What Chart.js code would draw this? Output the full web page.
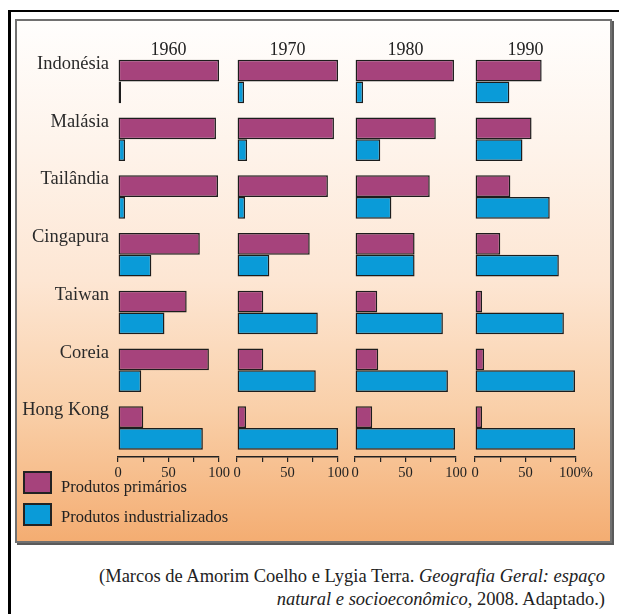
<!DOCTYPE html>
<html>
<head>
<meta charset="utf-8">
<script src="https://cdn.jsdelivr.net/npm/chart.js@4.4.1/dist/chart.umd.min.js"></script>
<style>
  body { margin: 0; background: #fff; }
  #fig { position: relative; width: 619px; height: 614px; overflow: hidden; font-family: 'Liberation Serif', serif; color: #222; }
  #outer { position: absolute; left: 8px; top: 10px; width: 640px; height: 640px; border-left: 3px solid #000; border-top: 2px solid #000; }
  #box { position: absolute; left: 15px; top: 19px; width: 597px; height: 524px; box-sizing: border-box;
         border: 2px solid #707070; box-shadow: 2px 2px 0 #5a5a5a;
         background: linear-gradient(to bottom, #fffefd 0%, #fef3ea 25%, #fde6d3 50%, #f9cfa8 75%, #f4ad72 100%); }
  canvas { position: absolute; }
  .sw { position: absolute; left: 23px; width: 29px; height: 23px; box-sizing: border-box; border: 2px solid #222; }
  .lt { position: absolute; left: 61px; font-size: 16.5px; line-height: 16px; white-space: nowrap; }
  #caption { position: absolute; right: 14px; top: 565px; font-size: 18.5px; line-height: 23px; text-align: right; white-space: nowrap; }
</style>
</head>
<body>
<div id="fig">
  <div id="outer"></div>
  <div id="box"></div>
  <canvas id="c0"></canvas>
  <canvas id="c1"></canvas>
  <canvas id="c2"></canvas>
  <canvas id="c3"></canvas>
  <div id="legend"></div>
  <div id="caption">(Marcos de Amorim Coelho e Lygia Terra. <i>Geografia Geral: espaço</i><br><i>natural e socioeconômico</i>, 2008. Adaptado.)</div>
</div>
<script>
const countries = ['Indonésia', 'Malásia', 'Tailândia', 'Cingapura', 'Taiwan', 'Coreia', 'Hong Kong'];
const years = ['1960', '1970', '1980', '1990'];
const seriesNames = ['Produtos primários', 'Produtos industrializados'];
const seriesColors = ['#a6437c', '#0a9bd8'];

// % das exportacoes
const primarios1960 = [100, 97, 99, 81, 68, 90, 25];
const industrializados1960 = [3, 7, 7, 33, 46, 23, 84];
const primarios1970 = [100, 96, 90, 72, 26, 26, 9];
const industrializados1970 = [7, 10, 8, 32, 80, 78, 100];
const primarios1980 = [98, 80, 74, 59, 22, 23, 17];
const industrializados1980 = [8, 25, 36, 59, 87, 92, 99];
const primarios1990 = [66, 56, 35, 25, 7, 9, 7];
const industrializados1990 = [34, 47, 74, 83, 88, 99, 99];

const xTickValues = [0, 25, 50, 75, 100];
const xTickLabels = ['0', '', '50', '', '100'];
const xTickLabelsLast = ['0', '', '50', '', '100%'];

const primarios = [primarios1960, primarios1970, primarios1980, primarios1990];
const industrializados = [industrializados1960, industrializados1970, industrializados1980, industrializados1990];

const FONT = "'Liberation Serif', serif";
const plotLeft = [118, 237, 355, 475];
const plotWidth = 101;

years.forEach(function (ano, i) {
    const canvas = document.getElementById('c' + i);
    const first = i === 0;
    const last = i === years.length - 1;
    const padL = first ? 0 : 8;
    const yW = first ? 103 : 0;
    const padR = last ? 22 : 14;
    canvas.width = padL + yW + plotWidth + padR;
    canvas.height = 439;
    canvas.style.left = (plotLeft[i] - yW - padL) + 'px';
    canvas.style.top = '40px';

    const labels = last ? xTickLabelsLast : xTickLabels;

    new Chart(canvas.getContext('2d'), {
        type: 'bar',
        data: {
            labels: countries,
            datasets: [{
                label: seriesNames[0],
                data: primarios[i],
                backgroundColor: seriesColors[0],
                borderColor: '#1d1d1d',
                borderWidth: 1.5,
                borderSkipped: false
            }, {
                label: seriesNames[1],
                data: industrializados[i],
                backgroundColor: seriesColors[1],
                borderColor: '#1d1d1d',
                borderWidth: 1.5,
                borderSkipped: false
            }]
        },
        options: {
            indexAxis: 'y',
            responsive: false,
            animation: false,
            categoryPercentage: 0.753,
            barPercentage: 1.0,
            layout: { padding: { top: 1.5, bottom: 0, left: padL, right: padR } },
            plugins: {
                legend: { display: false },
                tooltip: { enabled: false },
                title: {
                    display: true,
                    text: ano,
                    fullSize: false,
                    color: '#222',
                    font: { family: FONT, size: 18, weight: 'normal', lineHeight: 1 },
                    padding: { top: 0, bottom: -7 }
                }
            },
            scales: {
                x: {
                    type: 'linear',
                    min: 0,
                    max: 100,
                    afterBuildTicks: function (scale) {
                        scale.ticks = xTickValues.map(v => ({ value: v }));
                    },
                    afterFit: function (scale) { scale.height = 22; },
                    ticks: {
                        autoSkip: false,
                        maxRotation: 0,
                        padding: 2,
                        color: '#222',
                        font: { family: FONT, size: 14.5 },
                        callback: (v, idx) => labels[idx]
                    },
                    grid: { drawOnChartArea: false, drawTicks: true, tickLength: 5, color: '#222', lineWidth: 1.2 },
                    border: { display: true, color: '#222', width: 1.5 }
                },
                y: {
                    display: first,
                    afterFit: function (scale) {
                        scale.width = yW;
                        scale.paddingTop = 0;
                        scale.paddingBottom = 0;
                    },
                    grid: { display: false, drawTicks: false },
                    border: { display: false },
                    ticks: {
                        padding: 9,
                        labelOffset: -17.5,
                        color: '#2a2a2a',
                        font: { family: FONT, size: 18.5 }
                    }
                }
            }
        }
    });
});

// legenda
const legend = document.getElementById('legend');
const swTop = [471, 503];
const txtTop = [479, 509];
seriesNames.forEach(function (nome, k) {
    const sw = document.createElement('div');
    sw.className = 'sw';
    sw.style.top = swTop[k] + 'px';
    sw.style.background = seriesColors[k];
    legend.appendChild(sw);
    const t = document.createElement('div');
    t.className = 'lt';
    t.style.top = txtTop[k] + 'px';
    t.textContent = nome;
    legend.appendChild(t);
});
</script>
</body>
</html>
